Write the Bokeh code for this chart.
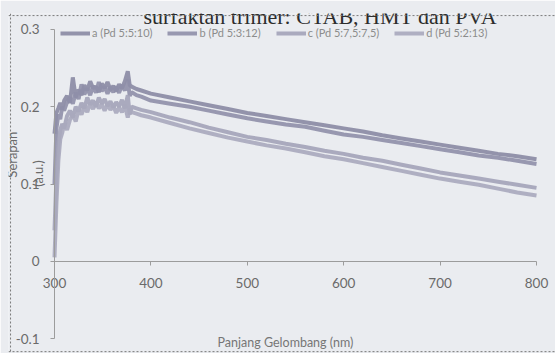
from bokeh.plotting import figure
from bokeh.models import Range1d, FixedTicker, Label, Span
from bokeh.embed import file_html
from bokeh.resources import INLINE

# ---------------- data ----------------
wavelength = [300, 302, 304, 306, 308, 310, 313, 316, 319, 322, 325, 328, 331, 334,
              337, 340, 343, 346, 349, 352, 355, 358, 361, 364, 367, 370, 373, 376,
              378, 380, 385, 390, 400, 420, 440, 460, 480, 500, 520, 540, 560, 580,
              600, 620, 640, 660, 680, 700, 720, 740, 760, 780, 800]

abs_a = [0.165, 0.192, 0.198, 0.205, 0.196, 0.208, 0.214, 0.205, 0.238, 0.212, 0.222, 0.215, 0.228, 0.221,
         0.233, 0.224, 0.226, 0.219, 0.230, 0.224, 0.232, 0.222, 0.227, 0.220, 0.229, 0.224, 0.233, 0.246,
         0.228, 0.226, 0.223, 0.221, 0.217, 0.212, 0.207, 0.202, 0.197, 0.192, 0.188, 0.184, 0.180, 0.176,
         0.172, 0.168, 0.163, 0.159, 0.155, 0.151, 0.147, 0.143, 0.139, 0.136, 0.132]

abs_b = [0.100, 0.172, 0.190, 0.184, 0.200, 0.195, 0.206, 0.212, 0.204, 0.218, 0.210, 0.229, 0.216, 0.224,
         0.215, 0.227, 0.218, 0.232, 0.220, 0.226, 0.217, 0.225, 0.219, 0.226, 0.218, 0.228, 0.221, 0.235,
         0.214, 0.219, 0.215, 0.213, 0.208, 0.204, 0.200, 0.195, 0.190, 0.185, 0.181, 0.177, 0.174, 0.169,
         0.164, 0.161, 0.157, 0.153, 0.149, 0.145, 0.141, 0.137, 0.134, 0.130, 0.126]

abs_c = [0.040, 0.110, 0.152, 0.170, 0.178, 0.172, 0.188, 0.195, 0.186, 0.200, 0.194, 0.205, 0.198, 0.212,
         0.203, 0.208, 0.200, 0.212, 0.204, 0.210, 0.201, 0.207, 0.199, 0.206, 0.200, 0.209, 0.198, 0.215,
         0.190, 0.200, 0.198, 0.196, 0.193, 0.186, 0.180, 0.173, 0.167, 0.161, 0.157, 0.152, 0.148, 0.143,
         0.139, 0.134, 0.130, 0.125, 0.120, 0.115, 0.111, 0.107, 0.103, 0.099, 0.095]

abs_d = [0.005, 0.075, 0.130, 0.158, 0.166, 0.178, 0.170, 0.183, 0.190, 0.181, 0.196, 0.190, 0.200, 0.193,
         0.205, 0.197, 0.206, 0.198, 0.203, 0.195, 0.203, 0.196, 0.201, 0.192, 0.199, 0.193, 0.202, 0.186,
         0.197, 0.193, 0.191, 0.189, 0.186, 0.179, 0.172, 0.166, 0.160, 0.155, 0.150, 0.146, 0.141, 0.136,
         0.132, 0.127, 0.122, 0.117, 0.112, 0.107, 0.103, 0.099, 0.094, 0.089, 0.085]

series_labels = ["a (Pd 5:5:10)", "b (Pd 5:3:12)", "c (Pd 5:7,5:7,5)", "d (Pd 5:2:13)"]
x_ticks = [300, 400, 500, 600, 700, 800]
y_ticks = [-0.1, 0, 0.1, 0.2, 0.3]
y_tick_text = ["-0.1", "0", "0.1", "0.2", "0.3"]
x_title = "Panjang Gelombang (nm)"
y_title_1 = "Serapan"
y_title_2 = "(a.u.)"
page_text = "surfaktan trimer: CTAB, HMT dan PVA"

# ---------------- figure ----------------
PAPER = "#eaecf0"
FONT = "Lato"

p = figure(width=555, height=353, output_backend="svg", toolbar_location=None,
           x_range=Range1d(252.28, 819.7), y_range=Range1d(-0.1194, 0.3207),
           min_border_left=8, min_border_right=0, min_border_top=13, min_border_bottom=0)
p.background_fill_color = PAPER
p.border_fill_color = PAPER
p.outline_line_color = None
p.grid.visible = False

colors = ["#8a8aa3", "#8f8fa8", "#a3a3b8", "#a8a8bc"]
for ys, lab, col in zip([abs_a, abs_b, abs_c, abs_d], series_labels, colors):
    p.line(wavelength, ys, line_color=col, line_width=4, line_alpha=0.9, legend_label=lab)

# axes crossing at (300, 0)
xa = p.xaxis[0]
xa.fixed_location = 0
xa.bounds = (300, 800)
xa.ticker = FixedTicker(ticks=x_ticks)
ya = p.yaxis[0]
ya.fixed_location = 300
ya.bounds = (-0.1, 0.3)
ya.ticker = FixedTicker(ticks=y_ticks)
ya.major_label_overrides = {t: s for t, s in zip(y_ticks, y_tick_text)}

for ax in (xa, ya):
    ax.axis_line_color = "#9c9c9c"
    ax.axis_line_width = 1
    ax.major_tick_line_color = "#9c9c9c"
    ax.major_tick_in = 0
    ax.major_tick_out = 4
    ax.minor_tick_line_color = None
    ax.major_label_text_font = FONT
    ax.major_label_text_font_size = "13.5px"
    ax.major_label_text_color = "#6a6a6a"
xa.major_label_standoff = 13
ya.major_label_standoff = 11

# axis titles
p.add_layout(Label(x=539.6, y=-0.105, text=x_title, text_font=FONT, text_font_size="12.5px",
                   text_color="#767676", text_align="center", text_baseline="middle"))
p.add_layout(Label(x=256.4, y=0.138, text=y_title_1, text_font=FONT, text_font_size="13px",
                   text_color="#6a6a6a", text_align="center", text_baseline="middle", angle=1.5708))
p.add_layout(Label(x=282.4, y=0.1136, text=y_title_2, text_font=FONT, text_font_size="13px",
                   text_color="#6a6a6a", text_align="center", text_baseline="middle", angle=1.5708))

# page caption above the chart
p.add_layout(Label(x=392.3, y=0.3168, text=page_text, text_font="Liberation Serif",
                   text_font_size="22px", text_color="#2c2c2c", text_align="left",
                   text_baseline="alphabetic"))

# dotted chart-area border (left, top, bottom)
for loc, dim in [(254.4, "height"), (0.318, "width"), (-0.117, "width")]:
    p.add_layout(Span(location=loc, dimension=dim, line_color="#7a7a7a",
                      line_width=1, line_dash="2 2"))

# legend
lg = p.legend[0]
lg.orientation = "horizontal"
lg.location = (52, 314)
lg.padding = 0
lg.margin = 0
lg.spacing = 15
lg.glyph_width = 30
lg.glyph_height = 12
lg.label_height = 12
lg.label_standoff = 2
lg.label_text_font = FONT
lg.label_text_font_size = "11px"
lg.label_text_color = "#8c8c8c"
lg.border_line_color = None
lg.background_fill_alpha = 0

open("out.html", "w").write(file_html(p, INLINE))
